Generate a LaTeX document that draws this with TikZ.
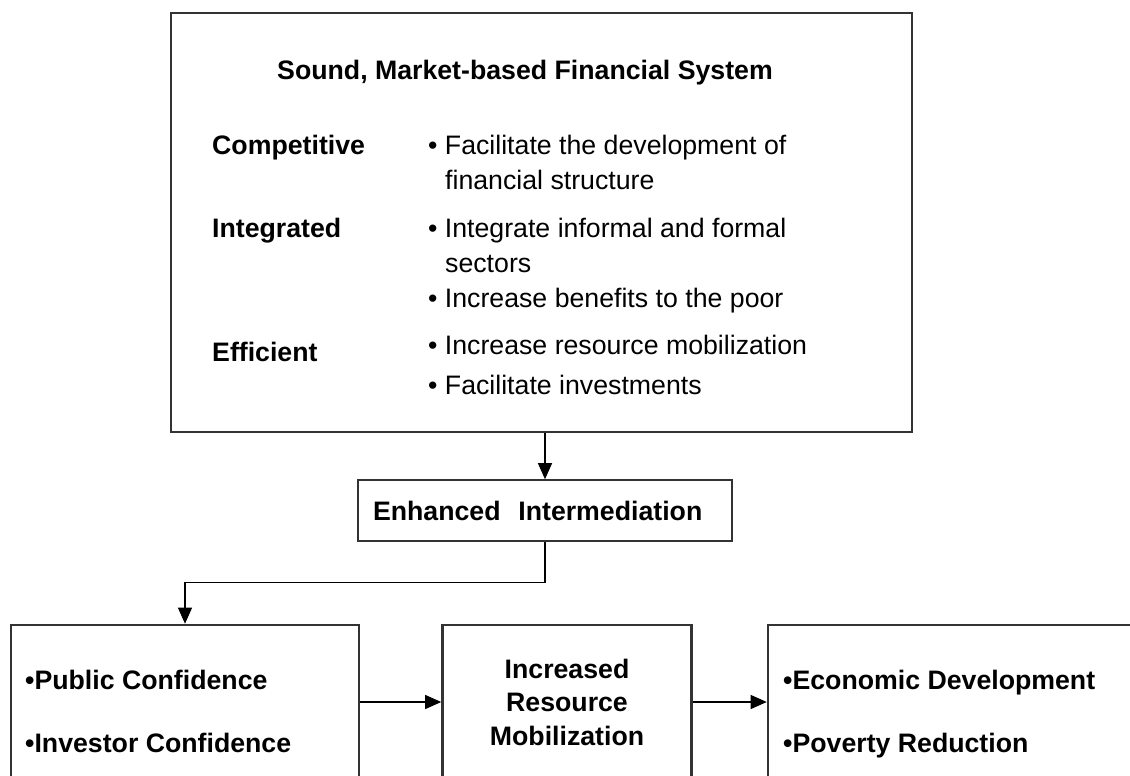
\documentclass[tikz,border=0pt]{standalone}
\usepackage{fontspec}
\setmainfont{Liberation Sans}
\usepackage{tikz}
\usetikzlibrary{arrows.meta}
\newcommand{\EDGE}[0]{black!80}
\newcommand{\ARR}[0]{black}

\begin{document}
\fontsize{26.7}{35}\selectfont
\begin{tikzpicture}[x=1pt, y=-1pt, >={Triangle[length=16pt, width=14pt]}]

  \tikzset{
    frame/.style={draw=\EDGE, line width=1.6pt, inner sep=0pt},
    outcome/.style={draw=\EDGE, line width=2.6pt, inner sep=0pt, minimum height=154pt},
    label/.style={anchor=base west, inner sep=0pt, font=\bfseries},
    item/.style={anchor=base west, inner sep=0pt},
    link/.style={->, draw=\ARR, line width=1.2pt}
  }

  \newcommand\BL{428}
  \newcommand\TL{445}

  \useasboundingbox (0,0) rectangle (1130,776);
  \clip (0,0) rectangle (1130,776);

  %% top box
  \node[frame, minimum width=741pt, minimum height=419pt] (sys) at (541.5, 222.5) {};
  \node[label] (title) at (277, 79.5) {Sound, Market-based Financial System};

  \node[label] (comp) at (212, 154.5) {Competitive};
  \node[label] (integ) at (212, 237.5) {Integrated};
  \node[label] (effic) at (212, 361.5) {Efficient};

  \node[item] (c1) at (\BL, 154.5) {• Facilitate the development of};
  \node[item] (c1b) at (\TL, 189.5) {financial structure};
  \node[item] (i1) at (\BL, 237.5) {• Integrate informal and formal};
  \node[item] (i1b) at (\TL, 272.5) {sectors};
  \node[item] (i2) at (\BL, 307.5) {• Increase benefits to the poor};
  \node[item] (e1) at (\BL, 354.5) {• Increase resource mobilization};
  \node[item] (e2) at (\BL, 394.5) {• Facilitate investments};

  %% middle box
  \node[frame, minimum width=374pt, minimum height=61pt, text width=344pt, inner xsep=15pt, align=left,
        font=\bfseries] (enh) at (545, 510.5) {Enhanced\ \ Intermediation};

  %% bottom row, cut by the page edge
  \node[outcome, minimum width=348pt] (conf) at (185, 702) {};
  \node[outcome, minimum width=249pt, align=center, font={\bfseries\fontsize{26.7}{33.5}\selectfont}] (mob) at (567, 702)
        {Increased\\Resource\\Mobilization};
  \node[outcome, minimum width=370pt] (dev) at (953, 702) {};

  \node[label] (pub) at (25, 689.5) {•Public Confidence};
  \node[label] (inv) at (25, 752.5) {•Investor Confidence};
  \node[label] (eco) at (783, 689.5) {•Economic Development};
  \node[label] (pov) at (783, 752.5) {•Poverty Reduction};

  \draw[link] (enh.north |- sys.south) -- (enh.north); %% system - intermediation
  \draw[link] (enh.south) -- ++(0, 41) -| (conf.north); %% intermediation - confidence
  \draw[link] (conf.east) -- (mob.west);
  \draw[link] (mob.east) -- (dev.west);

\end{tikzpicture}
\end{document}
